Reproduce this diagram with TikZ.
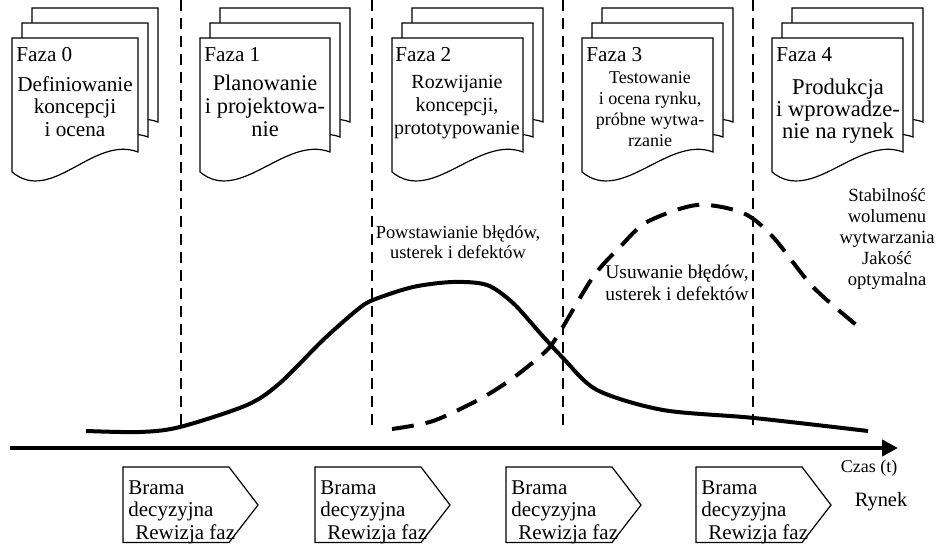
\documentclass[tikz,border=0pt]{standalone}
\usepackage{fontspec}
\setmainfont{Liberation Serif}
\usetikzlibrary{arrows.meta}

\tikzset{
  docline/.style={draw=black, fill=white, line width=0.6pt},
  gateline/.style={draw=black, line width=0.6pt},
  phaseline/.style={line width=1.1pt, dash pattern=on 5.5pt off 3.5pt},
  errcurve/.style={line width=2pt},
  fixcurve/.style={line width=2pt, dash pattern=on 11pt off 6pt},
  timeaxis/.style={line width=2.2pt, -{Triangle[length=8pt,width=8pt]}},
  fazalbl/.style={anchor=base west, inner sep=0pt, font=\fontsize{10.6}{12}\selectfont},
  bodytxt/.style={anchor=north, inner sep=0pt, align=center},
  gatetxt/.style={anchor=north west, inner sep=0pt, align=left, font=\fontsize{10.5}{11.3}\selectfont},
}

\begin{document}
\begin{tikzpicture}[x=0.5pt, y=-0.5pt]
\useasboundingbox (0,0) rectangle (940,544);

% stacks of phase sheets
\foreach \L/\W in {12/126,200/130,392/131,582/131,772/131}{
  \foreach \d in {20,10,0}{
    \filldraw[docline] (\L+\d,38-1.5*\d) -- ++(0,134) .. controls +(40,33) and +(-45,-17) .. ++(\W,-20) -- ++(0,-114) -- cycle;
  }
}

\node[fazalbl] (lbl0) at (16,62) {Faza 0};
\node[fazalbl] (lbl1) at (204,62) {Faza 1};
\node[fazalbl] (lbl2) at (395,62) {Faza 2};
\node[fazalbl] (lbl3) at (586,62) {Faza 3};
\node[fazalbl] (lbl4) at (776,62) {Faza 4};

\node[bodytxt, font=\fontsize{10.6}{11.3}\selectfont] (opis0) at (75,76) {Definiowanie\\koncepcji\\i ocena};
\node[bodytxt, font=\fontsize{11.2}{11.3}\selectfont] (opis1) at (265,75) {Planowanie\\i projektowa-\\nie};
\node[bodytxt, font=\fontsize{10}{11.5}\selectfont] (opis2) at (457,75) {Rozwijanie\\koncepcji,\\prototypowanie};
\node[bodytxt, font=\fontsize{9}{10.5}\selectfont] (opis3) at (650,71.5) {Testowanie\\i ocena rynku,\\próbne wytwa-\\rzanie};
\node[bodytxt, font=\fontsize{11.3}{11}\selectfont] (opis4) at (838,78) {Produkcja\\i wprowadze-\\nie na rynek};

% phase borders
\foreach \x in {181,372,563,753}
  \draw[phaseline] (\x,0) -- (\x,428);

% curves
\draw[errcurve] plot[smooth] coordinates {(86,431) (140,432) (180,427) (247,405) (280,383) (323,340) (357,310) (373,300) (413,287) (453,282) (487,285) (513,303) (540,333) (563,358) (597,390) (663,410) (754,418) (868,431)};
\draw[fixcurve] plot[smooth] coordinates {(392,429) (433,421) (480,399) (513,378) (545,352) (558,335) (593,277) (620,247) (647,222) (697,205) (743,213) (773,237) (813,287) (860,328)};

\node[bodytxt, font=\fontsize{9.2}{10}\selectfont] (powst) at (458,225) {Powstawianie błędów,\\usterek i defektów};
\node[bodytxt, font=\fontsize{9.7}{11}\selectfont] (usuw) at (677,265) {Usuwanie błędów,\\usterek i defektów};
\node[bodytxt, font=\fontsize{9.3}{10.5}\selectfont] (stab) at (887,188) {Stabilność\\wolumenu\\wytwarzania\\Jakość\\optymalna};

% time axis
\coordinate (t0) at (10,448);
\coordinate (t1) at (898,448);
\draw[timeaxis] (t0) -- (t1);
\node[bodytxt, font=\fontsize{9}{10}\selectfont] (czas) at (869,460) {Czas (t)};
\node[bodytxt, font=\fontsize{10.2}{11}\selectfont] (rynek) at (881,492) {Rynek};

% decision gates
\foreach \g/\L in {1/123,2/315,3/506,4/696}{
  \draw[gateline] (\L,467) -- ++(106,0) -- ++(29,38) -- ++(-29,37.5) -- ++(-106,0) -- cycle;
  \node[gatetxt] (gate\g) at (\L+5,480) {Brama\\decyzyjna\\\hspace{3.5pt}Rewizja faz};
}

\end{tikzpicture}
\end{document}
